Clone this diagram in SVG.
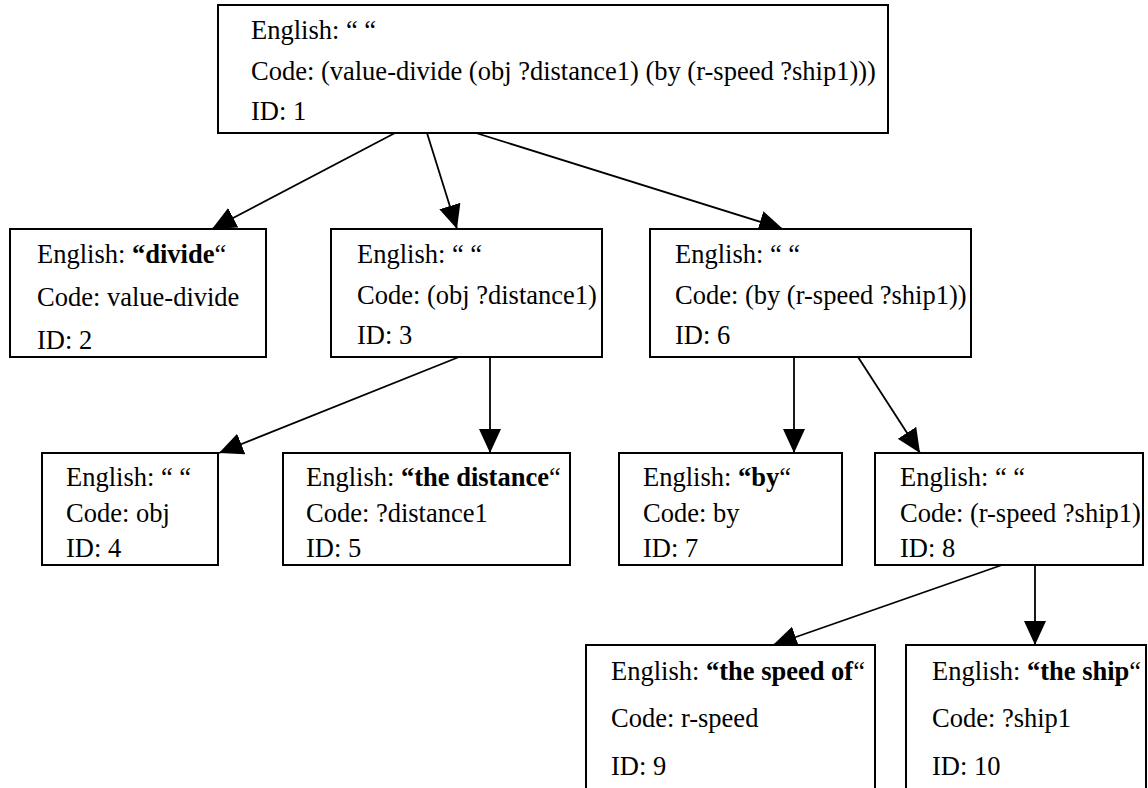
<svg xmlns="http://www.w3.org/2000/svg" width="1148" height="788" viewBox="0 0 1148 788">
  <style>
    .box { fill: #ffffff; stroke: #000000; stroke-width: 2; }
    .t { font-family: "Liberation Serif", "Times New Roman", serif; font-size: 26.5px; fill: #000000; }
    .b { font-weight: bold; }
    .edge { stroke: #000000; stroke-width: 1.8; fill: none; marker-end: url(#arrow); }
  </style>
  <defs>
    <marker id="arrow" markerUnits="userSpaceOnUse" markerWidth="26" markerHeight="24" refX="24" refY="11" orient="auto">
      <path d="M0,0 L24,11 L0,22 Z" fill="#000000"/>
    </marker>
  </defs>
  <rect width="1148" height="788" fill="#ffffff"/>

  <g id="connectors">
    <line class="edge" x1="395" y1="133" x2="212" y2="229"/>
    <line class="edge" x1="427" y1="133" x2="457" y2="229"/>
    <line class="edge" x1="476" y1="133" x2="783" y2="229"/>
    <line class="edge" x1="459" y1="357" x2="219" y2="453"/>
    <line class="edge" x1="490" y1="357" x2="490" y2="453"/>
    <line class="edge" x1="794" y1="357" x2="794" y2="453"/>
    <line class="edge" x1="858" y1="357" x2="920" y2="453"/>
    <line class="edge" x1="1002" y1="565" x2="773" y2="645"/>
    <line class="edge" x1="1035" y1="565" x2="1035" y2="645"/>
  </g>

  <g id="node1">
    <rect class="box" x="218" y="5" width="670" height="128"/>
    <text class="t" x="251" y="39">English: “ “</text>
    <text class="t" x="251" y="80">Code: (value-divide (obj ?distance1) (by (r-speed ?ship1)))</text>
    <text class="t" x="251" y="120">ID: 1</text>
  </g>

  <g id="node2">
    <rect class="box" x="10" y="229" width="256" height="128"/>
    <text class="t" x="37" y="263">English: <tspan class="b">“divide</tspan>“</text>
    <text class="t" x="37" y="306">Code: value-divide</text>
    <text class="t" x="37" y="349">ID: 2</text>
  </g>

  <g id="node3">
    <rect class="box" x="331" y="229" width="271" height="128"/>
    <text class="t" x="357" y="263">English: “ “</text>
    <text class="t" x="357" y="304">Code: (obj ?distance1)</text>
    <text class="t" x="357" y="344">ID: 3</text>
  </g>

  <g id="node6">
    <rect class="box" x="650" y="229" width="321" height="128"/>
    <text class="t" x="675" y="263">English: “ “</text>
    <text class="t" x="675" y="304">Code: (by (r-speed ?ship1))</text>
    <text class="t" x="675" y="344">ID: 6</text>
  </g>

  <g id="node4">
    <rect class="box" x="42" y="453" width="176" height="112"/>
    <text class="t" x="66" y="486">English: “ “</text>
    <text class="t" x="66" y="522">Code: obj</text>
    <text class="t" x="66" y="557">ID: 4</text>
  </g>

  <g id="node5">
    <rect class="box" x="283" y="453" width="287" height="112"/>
    <text class="t" x="306" y="486">English: <tspan class="b">“the distance</tspan>“</text>
    <text class="t" x="306" y="522">Code: ?distance1</text>
    <text class="t" x="306" y="557">ID: 5</text>
  </g>

  <g id="node7">
    <rect class="box" x="619" y="453" width="223" height="112"/>
    <text class="t" x="643" y="486">English: <tspan class="b">“by</tspan>“</text>
    <text class="t" x="643" y="522">Code: by</text>
    <text class="t" x="643" y="557">ID: 7</text>
  </g>

  <g id="node8">
    <rect class="box" x="875" y="453" width="268" height="112"/>
    <text class="t" x="900" y="486">English: “  “</text>
    <text class="t" x="900" y="522">Code: (r-speed ?ship1)</text>
    <text class="t" x="900" y="557">ID: 8</text>
  </g>

  <g id="node9">
    <rect class="box" x="586" y="645" width="289" height="160"/>
    <text class="t" x="611" y="680">English: <tspan class="b">“the speed of</tspan>“</text>
    <text class="t" x="611" y="727">Code: r-speed</text>
    <text class="t" x="611" y="775">ID: 9</text>
  </g>

  <g id="node10">
    <rect class="box" x="906" y="645" width="240" height="160"/>
    <text class="t" x="932" y="680">English: <tspan class="b">“the ship</tspan>“</text>
    <text class="t" x="932" y="727">Code: ?ship1</text>
    <text class="t" x="932" y="775">ID: 10</text>
  </g>
</svg>
